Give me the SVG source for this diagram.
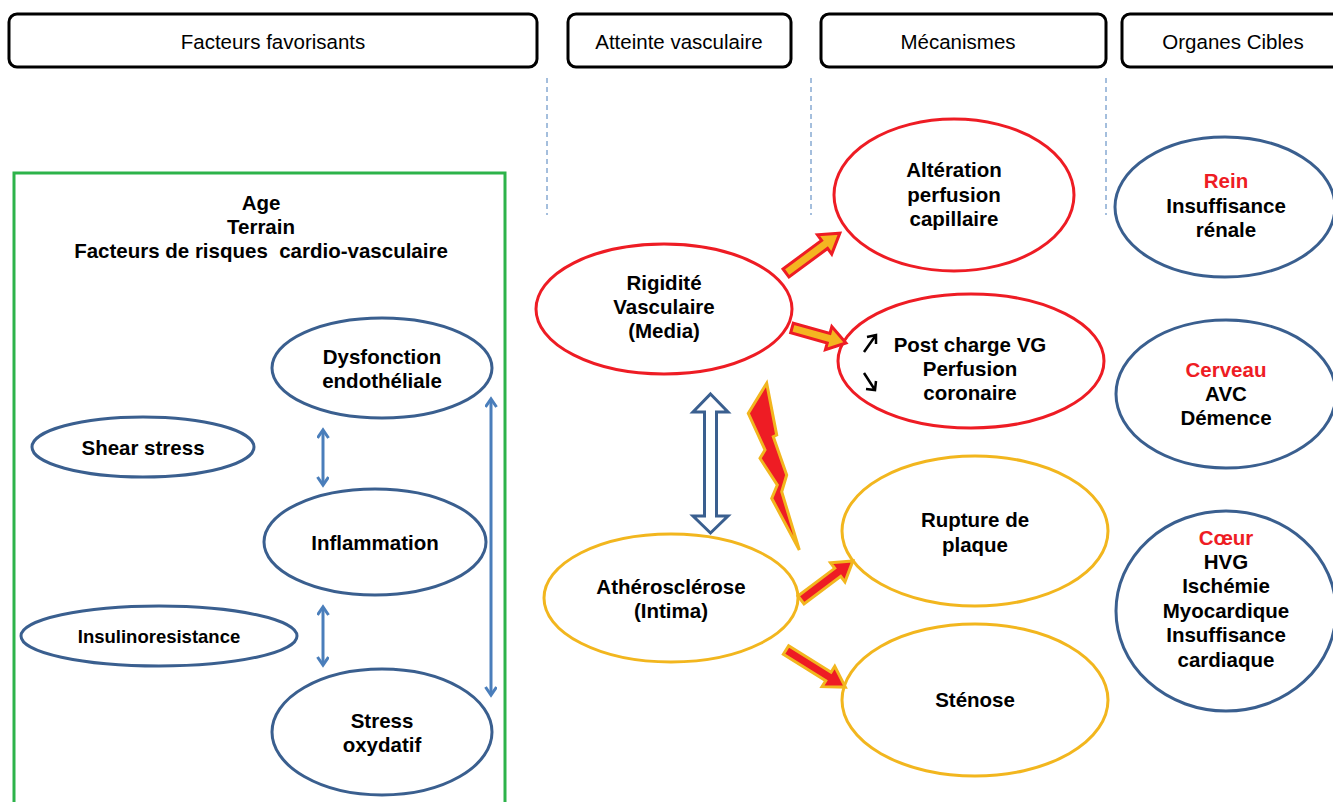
<svg xmlns="http://www.w3.org/2000/svg" width="1333" height="802" viewBox="0 0 1333 802">
<style>
.hdr{fill:#fff;stroke:#000;stroke-width:3}
.ht{font-family:"Liberation Sans",Arial,sans-serif;font-size:20.5px;fill:#000;text-anchor:middle}
.t{font-family:"Liberation Sans",Arial,sans-serif;font-size:20.5px;font-weight:bold;fill:#000;text-anchor:middle}
.red{fill:#ee1c24}
.be{fill:#fff;stroke:#3a5f8f;stroke-width:3}
.re{fill:#fff;stroke:#ee1c24;stroke-width:3}
.ye{fill:#fff;stroke:#f2b61e;stroke-width:3}
.dash{stroke:#4a7ebb;stroke-width:1;stroke-dasharray:5,4}
.ba{stroke:#4a7ebb;stroke-width:3;fill:none}
.ora{fill:#f4b521;stroke:#ee1c24;stroke-width:3;stroke-linejoin:miter}
.rda{fill:#ee1c24;stroke:#f2b61e;stroke-width:3;stroke-linejoin:miter}
.sa{fill:none;stroke:#000;stroke-width:2.5}
</style>
<defs>
<marker id="bh" markerWidth="14" markerHeight="14" refX="9" refY="6" orient="auto-start-reverse" markerUnits="userSpaceOnUse">
<path d="M1,0.5 L9,6 L1,11.5" fill="none" stroke="#4a7ebb" stroke-width="3"/>
</marker>
</defs>
<rect width="1333" height="802" fill="#fff"/>

<g id="headers">
<rect class="hdr" x="9" y="14" width="528" height="53" rx="8"/>
<text class="ht" x="273" y="49">Facteurs favorisants</text>
<rect class="hdr" x="568" y="14" width="223" height="53" rx="8"/>
<text class="ht" x="679" y="49">Atteinte vasculaire</text>
<rect class="hdr" x="821" y="14" width="285" height="53" rx="8"/>
<text class="ht" x="958" y="49">Mécanismes</text>
<rect class="hdr" x="1122" y="14" width="230" height="53" rx="8"/>
<text class="ht" x="1233" y="49">Organes Cibles</text>
</g>

<g id="separators">
<line class="dash" x1="547" y1="78" x2="547" y2="215"/>
<line class="dash" x1="811" y1="78" x2="811" y2="215"/>
<line class="dash" x1="1106" y1="78" x2="1106" y2="215"/>
</g>

<g id="facteurs-box">
<rect x="14" y="173" width="491" height="640" fill="none" stroke="#2db34a" stroke-width="3"/>
<text class="t" x="261" y="210">Age</text>
<text class="t" x="261" y="234">Terrain</text>
<text class="t" x="261" y="258" xml:space="preserve">Facteurs de risques  cardio-vasculaire</text>
</g>

<g id="dysfonction"><ellipse class="be" cx="382" cy="368" rx="110" ry="50"/>
<text class="t" x="382" y="364">Dysfonction</text><text class="t" x="382" y="388">endothéliale</text></g>
<g id="shear"><ellipse class="be" cx="143" cy="447" rx="111" ry="30"/>
<text class="t" x="143" y="455">Shear stress</text></g>
<g id="inflammation"><ellipse class="be" cx="375" cy="542" rx="111" ry="53"/>
<text class="t" x="375" y="550">Inflammation</text></g>
<g id="insulino"><ellipse class="be" cx="159" cy="636" rx="138" ry="30"/>
<text class="t" x="159" y="643" style="font-size:18.5px">Insulinoresistance</text></g>
<g id="stress"><ellipse class="be" cx="382" cy="732" rx="110" ry="63"/>
<text class="t" x="382" y="728">Stress</text><text class="t" x="382" y="752">oxydatif</text></g>

<g id="rigidite"><ellipse class="re" cx="664" cy="309" rx="128" ry="65"/>
<text class="t" x="664" y="290">Rigidité</text><text class="t" x="664" y="314">Vasculaire</text><text class="t" x="664" y="338">(Media)</text></g>
<g id="alteration"><ellipse class="re" cx="954" cy="195" rx="120" ry="76"/>
<text class="t" x="954" y="177">Altération</text><text class="t" x="954" y="202">perfusion</text><text class="t" x="954" y="226">capillaire</text></g>
<g id="postcharge"><ellipse class="re" cx="971" cy="361" rx="133" ry="67"/>
<text class="t" x="970" y="352">Post charge VG</text><text class="t" x="970" y="376">Perfusion</text><text class="t" x="970" y="400">coronaire</text>
<path class="sa" d="M864,352 L876,335 M867,337 L876,335 L876,344"/>
<path class="sa" d="M864,373 L875,390 M866,389 L875,390 L876,381"/></g>

<g id="atherosclerose"><ellipse class="ye" cx="671" cy="598" rx="127" ry="64"/>
<text class="t" x="671" y="594">Athérosclérose</text><text class="t" x="671" y="618">(Intima)</text></g>
<g id="rupture"><ellipse class="ye" cx="975" cy="531" rx="133" ry="75"/>
<text class="t" x="975" y="527">Rupture de</text><text class="t" x="975" y="552">plaque</text></g>
<g id="stenose"><ellipse class="ye" cx="975" cy="700" rx="133" ry="76"/>
<text class="t" x="975" y="707">Sténose</text></g>

<g id="rein"><ellipse class="be" cx="1225" cy="207" rx="110" ry="70"/>
<text class="t red" x="1226" y="188">Rein</text><text class="t" x="1226" y="213">Insuffisance</text><text class="t" x="1226" y="237">rénale</text></g>
<g id="cerveau"><ellipse class="be" cx="1226" cy="394" rx="110" ry="74"/>
<text class="t red" x="1226" y="377">Cerveau</text><text class="t" x="1226" y="401">AVC</text><text class="t" x="1226" y="425">Démence</text></g>
<g id="coeur"><ellipse class="be" cx="1226" cy="611" rx="110" ry="100"/>
<text class="t red" x="1226" y="545">Cœur</text><text class="t" x="1226" y="569">HVG</text><text class="t" x="1226" y="593">Ischémie</text><text class="t" x="1226" y="618">Myocardique</text><text class="t" x="1226" y="642">Insuffisance</text><text class="t" x="1226" y="667">cardiaque</text></g>

<g id="connectors">
<line class="ba" x1="323" y1="430" x2="323" y2="485" marker-start="url(#bh)" marker-end="url(#bh)"/>
<line class="ba" x1="323" y1="607" x2="323" y2="665" marker-start="url(#bh)" marker-end="url(#bh)"/>
<line class="ba" x1="491" y1="399" x2="491" y2="695" marker-start="url(#bh)" marker-end="url(#bh)"/>
<polygon points="710.5,394 728,412 716.5,412 716.5,516 728,516 710.5,533 693,516 704.5,516 704.5,412 693,412" fill="#fff" stroke="#3a5f8f" stroke-width="3" stroke-linejoin="miter"/>
<polygon class="rda" points="766.7,383.3 776.7,435 773.3,436.7 786.7,475 781.7,491.7 799.3,550 771.7,498.3 777.3,485 760,458.3 765,450 748.3,413.3"/>
<polygon class="ora" transform="translate(786,273) rotate(-36.5)" points="0,-5 48,-5 48,-12 67,0 48,12 48,5 0,5"/>
<polygon class="ora" transform="translate(792,328) rotate(15.5)" points="0,-5 38,-5 38,-12 56,0 38,12 38,5 0,5"/>
<polygon class="rda" transform="translate(801,600) rotate(-37)" points="0,-5 46,-5 46,-12 65,0 46,12 46,5 0,5"/>
<polygon class="rda" transform="translate(786,650) rotate(32)" points="0,-5 50,-5 50,-12 70,0 50,12 50,5 0,5"/>
</g>
</svg>
